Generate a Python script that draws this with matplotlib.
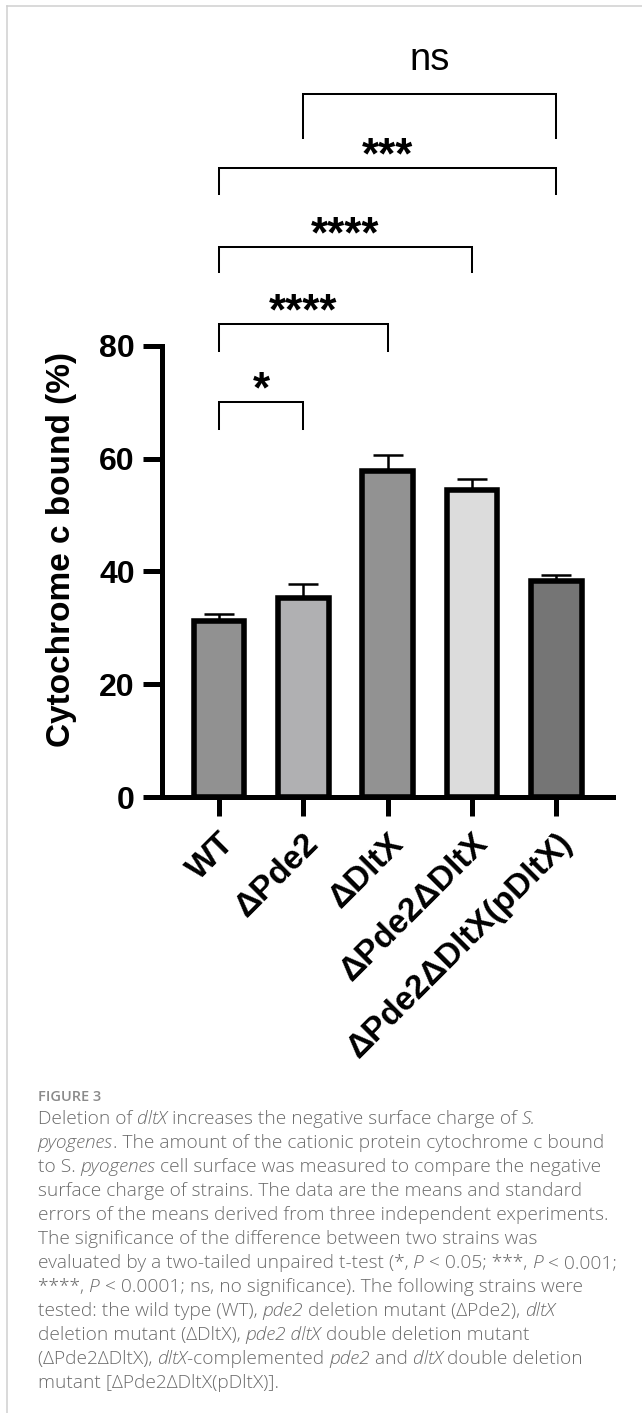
import numpy as np
import matplotlib
matplotlib.use("Agg")
import matplotlib.pyplot as plt
from matplotlib.lines import Line2D

plt.rcParams['font.family'] = ['Liberation Sans', 'DejaVu Sans']

# --- Data ---
strains = ['WT', 'ΔPde2', 'ΔDltX', 'ΔPde2ΔDltX', 'ΔPde2ΔDltX(pDltX)']
means = [31.3, 35.3, 57.8, 54.5, 38.3]
sems = [1.1, 2.4, 2.8, 1.8, 1.1]
bar_colors = ['#919191', '#b0b0b2', '#929292', '#dcdcdc', '#757575']

# significance comparisons: (left bar, right bar, label)
comparisons = [(0, 1, '*'), (0, 2, '****'), (0, 3, '****'), (0, 4, '***'), (1, 4, 'ns')]
bracket_top = [70.0, 83.8, 97.5, 111.4, 124.6]
bracket_leg = [65.2, 79.1, 93.0, 106.8, 116.8]

W, H = 642, 1413
fig = plt.figure(figsize=(W / 100, H / 100), dpi=100)

# --- Bar chart ---
ax = fig.add_axes([162 / W, (H - 797.3) / H, (612.7 - 162) / W, (797.3 - 345.7) / H])
x = np.arange(len(strains))
ax.bar(x, means, width=0.6, color=bar_colors, edgecolor='black', linewidth=4, zorder=3)
ax.errorbar(x, means, yerr=[np.zeros(len(sems)), sems], fmt='none', ecolor='black',
            elinewidth=1.8, capsize=10.8, capthick=1.8, zorder=2)

ax.set_xlim(-0.675, 4.67)
ax.set_ylim(0, 80)
ax.set_yticks([0, 20, 40, 60, 80])
ax.set_yticklabels(['0', '20', '40', '60', '80'], fontsize=23, fontweight='bold')
ax.set_xticks(x)
ax.set_xticklabels(strains, rotation=45, ha='right', va='top', rotation_mode='anchor',
                   fontsize=24, fontweight='bold')
for side in ['top', 'right']:
    ax.spines[side].set_visible(False)
for side in ['left', 'bottom']:
    ax.spines[side].set_linewidth(3.6)
ax.tick_params(axis='both', width=3.6, length=13.8)
ax.tick_params(axis='y', pad=5.8)
ax.tick_params(axis='x', pad=8)

ax.set_ylabel('Cytochrome c bound (%)', fontsize=24, fontweight='bold')
ax.yaxis.label.set_va('center')
ax.yaxis.set_label_coords(-0.222, 0.548)

# --- Significance brackets ---
for (i, j, lab), top, leg in zip(comparisons, bracket_top, bracket_leg):
    ax.plot([i, i, j, j], [leg, top, top, leg], color='black', lw=1.45,
            clip_on=False, solid_joinstyle='miter')
    if lab == 'ns':
        ax.text((i + j) / 2, top + 4.3, lab, ha='center', va='baseline',
                fontsize=27.5, clip_on=False)
    else:
        ax.text((i + j) / 2, top, lab, ha='center', va='baseline',
                fontsize=31.5, fontweight='bold', clip_on=False)

# --- Panel border ---
fig.add_artist(Line2D([7.4 / W, 7.4 / W], [0, 1 - 6 / H], color='#cfcfcf', lw=1.1))
fig.add_artist(Line2D([7.4 / W, 1], [1 - 6 / H, 1 - 6 / H], color='#cfcfcf', lw=1.1))

# --- Caption ---
cap_font = 'Open Sans'
cap_color = '#6b6b6b'
cap_size = 13.8
x0 = 37.7 / W

fig.text(x0, 1 - 1101 / H, 'FIGURE 3', fontsize=10.5, color='#8a8a8a',
         family=cap_font, fontweight='semibold', va='baseline')

# segments: (text, italic); spaces kept at segment ends
caption = [
    [('Deletion of ', 0), ('dltX ', 1), ('increases the negative surface charge of ', 0), ('S.', 1)],
    [('pyogenes', 1), ('. The amount of the cationic protein cytochrome c bound', 0)],
    [('to S. ', 0), ('pyogenes ', 1), ('cell surface was measured to compare the negative', 0)],
    [('surface charge of strains. The data are the means and standard', 0)],
    [('errors of the means derived from three independent experiments.', 0)],
    [('The significance of the difference between two strains was', 0)],
    [('evaluated by a two-tailed unpaired t-test (*, ', 0), ('P ', 1), ('< 0.05; ***, ', 0),
     ('P ', 1), ('< 0.001;', 0)],
    [('****, ', 0), ('P ', 1), ('< 0.0001; ns, no significance). The following strains were', 0)],
    [('tested: the wild type (WT), ', 0), ('pde2 ', 1), ('deletion mutant (ΔPde2), ', 0), ('dltX', 1)],
    [('deletion mutant (ΔDltX), ', 0), ('pde2 dltX ', 1), ('double deletion mutant', 0)],
    [('(ΔPde2ΔDltX), ', 0), ('dltX', 1), ('-complemented ', 0), ('pde2 ', 1), ('and ', 0),
     ('dltX ', 1), ('double deletion', 0)],
    [('mutant [ΔPde2ΔDltX(pDltX)].', 0)],
]

renderer = fig.canvas.get_renderer()


def seg_width(s, italic):
    style = 'italic' if italic else 'normal'
    t1 = fig.text(0, 0, s + '.', fontsize=cap_size, family=cap_font, style=style,
                  fontweight='light')
    t2 = fig.text(0, 0, '.', fontsize=cap_size, family=cap_font, style=style,
                  fontweight='light')
    w = t1.get_window_extent(renderer).width - t2.get_window_extent(renderer).width
    t1.remove()
    t2.remove()
    return w


for k, line in enumerate(caption):
    y = 1 - (1124.3 + 24.0 * k) / H
    xp = x0
    for s, it in line:
        fig.text(xp, y, s, fontsize=cap_size, family=cap_font, color=cap_color,
                 style='italic' if it else 'normal', fontweight='light', va='baseline')
        xp += seg_width(s, it) / W

fig.savefig('out.png', dpi=100)
